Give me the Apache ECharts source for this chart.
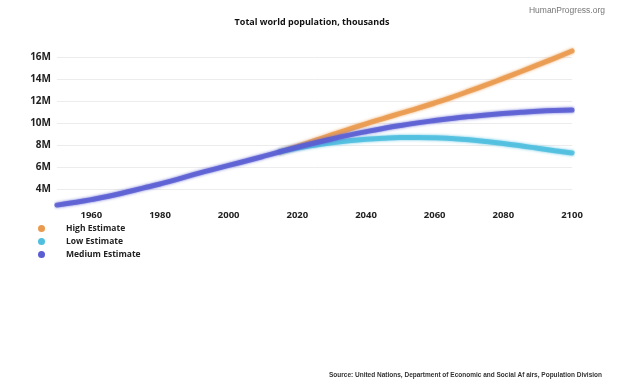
<!DOCTYPE html>
<html>
<head>
<meta charset="utf-8">
<script src="https://cdn.jsdelivr.net/npm/echarts@6/dist/echarts.min.js"></script>
<style>
html,body{margin:0;padding:0;background:#fff;}
#chart{width:624px;height:386px;}
</style>
</head>
<body>
<div id="chart"></div>
<script>
// Years (x values)
var years = [1950,1955,1960,1965,1970,1975,1980,1985,1990,1995,2000,2005,2010,2015,2020,2025,2030,2035,2040,2045,2050,2055,2060,2065,2070,2075,2080,2085,2090,2095,2100];
// Population, thousands
var mediumEstimate = [2536000,2773000,3033000,3339000,3701000,4079000,4458000,4871000,5331000,5744000,6145000,6542000,6958000,7383000,7795000,8185000,8551000,8893000,9210000,9504000,9772000,10012000,10223000,10412000,10580000,10731000,10861000,10970000,11062000,11133000,11184000];
var highEstimate = [null,null,null,null,null,null,null,null,null,null,null,null,null,7383000,7878000,8390000,8920000,9430000,9930000,10400000,10870000,11330000,11820000,12340000,12890000,13460000,14050000,14660000,15280000,15900000,16550000];
var lowEstimate = [null,null,null,null,null,null,null,null,null,null,null,null,null,7383000,7712000,7980000,8200000,8380000,8520000,8620000,8680000,8690000,8660000,8580000,8470000,8320000,8140000,7930000,7700000,7480000,7270000];
var seriesNames = ['High Estimate','Low Estimate','Medium Estimate'];
var yTicks = [4000000,6000000,8000000,10000000,12000000,14000000,16000000];

function pairs(vals){ return years.map(function(y,i){ return [y, vals[i]]; }); }
var colors = ['#EA9A4E','#4FBEDF','#5B5ED2'];
var chart = echarts.init(document.getElementById('chart'), null, {renderer:'canvas'});
function mkSeries(name, vals, color){
  return {
    name: name, type:'line', smooth:true, showSymbol:false, symbol:'circle', symbolSize:7,
    data: pairs(vals), connectNulls:false,
    lineStyle:{width:5, color:color, cap:'round', opacity:0.85, shadowColor:color, shadowBlur:3},
    itemStyle:{color:color},
    emphasis:{disabled:true}
  };
}
chart.setOption({
  animation:false,
  color: colors,
  title:[
    {text:'Total world population, thousands', left:'center', top:13,
     textStyle:{fontFamily:'Open Sans', fontWeight:'bold', fontSize:9, color:'#111'}},
    {text:'HumanProgress.org', right:14, top:1,
     textStyle:{fontFamily:'Liberation Sans', fontWeight:'normal', fontSize:8.5, color:'#777'}},
    {text:'Source: United Nations, Department of Economic and Social Af airs, Population Division', right:17, top:367,
     textStyle:{fontFamily:'Liberation Sans', fontWeight:'bold', fontSize:6.5, color:'#333'}}
  ],
  legend:{
    orient:'vertical', left:33, top:219, itemGap:4, itemWidth:7, itemHeight:7, icon:'circle',
    data: seriesNames,
    textStyle:{fontFamily:'Open Sans', fontWeight:'bold', fontSize:8.5, color:'#222', padding:[0,0,0,16]}
  },
  grid:{left:57, right:52, top:35, height:176, containLabel:false},
  xAxis:{
    type:'value', min:1950, max:2100, interval:10,
    axisLine:{show:false}, axisTick:{show:false}, splitLine:{show:false},
    axisLabel:{margin:-1, fontFamily:'Open Sans', fontWeight:'bold', fontSize:9.5, color:'#222',
      formatter:function(v){ return (v % 20 === 0) ? String(v) : ''; }}
  },
  yAxis:{
    type:'value', min:2000000, max:18000000, interval:2000000,
    axisLine:{show:false}, axisTick:{show:false},
    splitLine:{show:true, showMinLine:false, showMaxLine:false, lineStyle:{color:'#ececec', width:1}},
    axisLabel:{margin:6, fontFamily:'Open Sans', fontWeight:'bold', fontSize:10, color:'#222',
      showMinLabel:false, showMaxLabel:false,
      formatter:function(v){ return yTicks.indexOf(v) >= 0 ? (v/1000000) + 'M' : ''; }}
  },
  series:[
    mkSeries(seriesNames[0], highEstimate, colors[0]),
    mkSeries(seriesNames[1], lowEstimate, colors[1]),
    mkSeries(seriesNames[2], mediumEstimate, colors[2])
  ]
});
</script>
</body>
</html>
